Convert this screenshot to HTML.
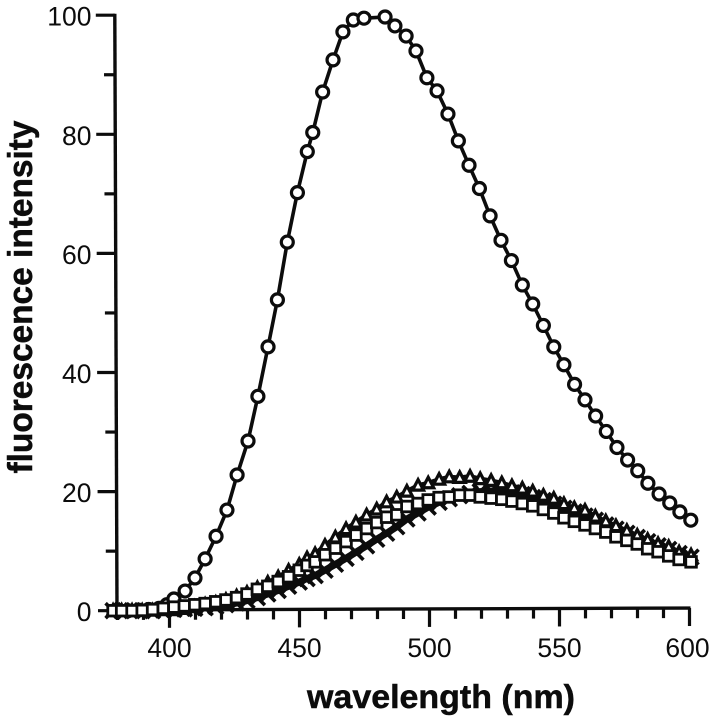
<!DOCTYPE html>
<html>
<head>
<meta charset="utf-8">
<title>Fluorescence spectra</title>
<style>
html,body{margin:0;padding:0;background:#fff;}
svg{display:block;}
text{fill:#0c0c0c;font-family:"Liberation Sans",Arial,sans-serif;}
.title{stroke:#0c0c0c;stroke-width:0.5px;}
</style>
</head>
<body>
<svg id="chart" width="716" height="719" viewBox="0 0 716 719" xmlns="http://www.w3.org/2000/svg">
  <g id="axes"></g>
  <g id="series"></g>
  <text class="title" x="441" y="708" text-anchor="middle" font-size="33" font-weight="bold" textLength="268" lengthAdjust="spacingAndGlyphs">wavelength (nm)</text>
  <text class="title" transform="translate(32,297) rotate(-90)" text-anchor="middle" font-size="34" font-weight="bold" textLength="353" lengthAdjust="spacingAndGlyphs">fluorescence intensity</text>
</svg>
<script>
const xMajorTicks = [400, 450, 500, 550, 600];
const xMinorTicks = [380, 390, 410, 420, 430, 440, 460, 470, 480, 490, 510, 520, 530, 540, 560, 570, 580, 590];
const yMajorTicks = [0, 20, 40, 60, 80, 100];
const yMinorTicks = [10, 30, 50, 70, 90];

const circleNm = [380,384,388,392,396,399,401.7,406,409.8,413.7,417.9,422.1,426,430.2,434,437.9,441.5,445.3,449.2,453,455.1,458.9,462.9,466.7,470.7,474.8,482.9,486.7,491,494.8,499,502.9,507.1,511.1,515.2,519.2,523.3,527.5,531.5,535.7,539.7,543.8,547.8,551.7,555.8,559.8,563.9,568,572.1,576.2,580.1,584,588.3,592.4,596.3,600.5];
const circleValues = [0,0,0.1,0.2,0.4,1,1.96,3.3,5.5,8.7,12.5,16.9,22.8,28.5,36,44.3,52.2,61.9,70.2,77.1,80.3,87.1,92.5,97.2,99.2,99.5,99.7,98.2,96.5,94,89.5,87.3,83.4,78.9,74.8,70.9,66.3,62.2,58.8,54.7,51.5,47.9,44.3,41.3,38,35.4,32.7,30.1,27.4,25.3,23.5,21.4,19.6,18.1,16.6,15.2];

const gridNm = [378.3,381.6,385.6,389.5,393.5,397.6,401.7,405.7,409.7,413.7,417.8,421.7,425.8,429.8,433.8,437.8,441.8,445.8,449.9,452.9,456,459.8,463.8,467.9,471.7,475.8,479.7,483.5,487.4,491.3,495.6,499.5,503.7,507.6,511.6,515.6,519.5,523.7,527.8,531.7,535.7,539.7,543.8,547.8,551.7,555.7,559.8,563.8,567.8,571.7,575.9,579.9,583.9,587.9,592,596,600.6];
const crossValues = [0,0,0,0,0,0.1,0.2,0.3,0.4,0.5,0.7,1,1.3,1.7,2.2,2.8,3.4,4.1,4.8,5.4,5.9,6.8,7.8,8.8,9.8,10.9,12,13,14.1,15.4,16.4,17.4,18.2,18.8,19.3,19.7,20,20.1,20,19.8,19.5,19,18.5,17.9,17.2,16.6,15.9,15.2,14.4,13.7,13,12.3,11.6,10.9,10.3,9.6,9];
const triangleValues = [0,0,0,0,0,0.1,0.1,0.3,0.6,1,1.3,1.8,2.4,3,3.8,4.7,5.6,6.7,7.7,8.8,9.5,10.9,12.3,13.7,14.8,16,17,18.2,19,20,21,21.4,22,22.4,22.3,22.5,22.1,21.8,21.4,20.9,20.5,20,19.3,18.8,17.9,17.2,16.8,15.8,15,14.2,13.4,12.6,11.9,11.2,10.7,9.8,9.3];
const squareValues = [0,0,0,0.05,0.2,0.4,0.6,0.8,1,1.2,1.5,1.8,2.2,2.8,3.6,4.1,4.9,5.7,6.8,7.6,8.2,9.4,10.5,11.6,12.7,13.8,14.8,15.7,16.1,17.5,18,18.6,19,19.1,19.4,19.4,19.1,18.9,18.7,18.4,18,17.6,17,16.4,15.6,15,14.4,13.8,13.2,12.4,11.8,11.2,10.4,9.9,9.2,8.6,8.2];

const NS = 'http://www.w3.org/2000/svg';
const INK = '#0c0c0c';
const axesG = document.getElementById('axes');
const seriesG = document.getElementById('series');

function xScale(nm) { return 169.5 + (nm - 400) * 2.6; }
function yScale(v) { return 610.7 - v * 5.955; }
function yAxisX(v) { return 117 - v * 0.022; }
function xAxisY(nm) { return 610 - (nm - 380) * 0.009; }

function make(tag, attrs, parent) {
  const el = document.createElementNS(NS, tag);
  for (const k in attrs) el.setAttribute(k, attrs[k]);
  parent.appendChild(el);
  return el;
}

const yAxisLine = make('line', {x1: yAxisX(100), y1: yScale(100) - 1.5, x2: yAxisX(0), y2: yScale(0), stroke: INK, 'stroke-width': 3.4}, axesG);



const xAxisLine = make('line', {x1: xScale(380), y1: xAxisY(380), x2: xScale(600) + 1, y2: xAxisY(600), stroke: INK, 'stroke-width': 3.4}, axesG);



yMajorTicks.forEach(function (v) {
  const t = make('line', {x1: yAxisX(v) - 19, y1: yScale(v), x2: yAxisX(v), y2: yScale(v), stroke: INK, 'stroke-width': 3.2}, axesG);
  
  
  const l = make('text', {x: 91.5, y: yScale(v) + 10.5, 'text-anchor': 'end', 'font-size': 26.5}, axesG);
  l.textContent = String(v);
  
  
});

yMinorTicks.forEach(function (v) {
  const t = make('line', {x1: yAxisX(v) - 11, y1: yScale(v), x2: yAxisX(v), y2: yScale(v), stroke: INK, 'stroke-width': 3.2}, axesG);
  
  
});

xMajorTicks.forEach(function (nm) {
  const t = make('line', {x1: xScale(nm), y1: xAxisY(nm), x2: xScale(nm), y2: xAxisY(nm) + 18, stroke: INK, 'stroke-width': 3.2}, axesG);
  
  
  const l = make('text', {x: xScale(nm) - (nm === 600 ? 2 : 0), y: 657, 'text-anchor': 'middle', 'font-size': 26.5}, axesG);
  l.textContent = String(nm);
  
  
});

xMinorTicks.forEach(function (nm) {
  const t = make('line', {x1: xScale(nm), y1: xAxisY(nm), x2: xScale(nm), y2: xAxisY(nm) + 10, stroke: INK, 'stroke-width': 3.2}, axesG);
  
  
});

function linePath(nms, vals) {
  return nms.map(function (nm, i) {
    return (i ? 'L' : 'M') + xScale(nm).toFixed(1) + ' ' + yScale(vals[i]).toFixed(1);
  }).join(' ');
}

// circle series
const circleGroup = make('g', {}, seriesG);


const circleLine = make('path', {d: linePath(circleNm, circleValues), fill: 'none', stroke: INK, 'stroke-width': 3.6}, circleGroup);


circleNm.forEach(function (nm, i) {
  const m = make('circle', {cx: xScale(nm), cy: yScale(circleValues[i]), r: 6, fill: '#fff', stroke: INK, 'stroke-width': 3.2}, circleGroup);
  
  
});

// cross series
const crossGroup = make('g', {}, seriesG);


const crossLine = make('path', {d: linePath(gridNm, crossValues), fill: 'none', stroke: INK, 'stroke-width': 7}, crossGroup);


gridNm.forEach(function (nm, i) {
  const cx = xScale(nm), cy = yScale(crossValues[i]), a = 7.5;
  const m = make('path', {d: 'M' + (cx - a) + ' ' + (cy - a) + ' L' + (cx + a) + ' ' + (cy + a) + ' M' + (cx - a) + ' ' + (cy + a) + ' L' + (cx + a) + ' ' + (cy - a), fill: 'none', stroke: INK, 'stroke-width': 3.6}, crossGroup);
  
  
});

// triangle series
const triangleGroup = make('g', {}, seriesG);


const triangleLine = make('path', {d: linePath(gridNm, triangleValues), fill: 'none', stroke: INK, 'stroke-width': 5}, triangleGroup);


gridNm.forEach(function (nm, i) {
  const cx = xScale(nm), cy = yScale(triangleValues[i]);
  const m = make('path', {d: 'M' + cx + ' ' + (cy - 6) + ' L' + (cx + 5.5) + ' ' + (cy + 4.5) + ' L' + (cx - 5.5) + ' ' + (cy + 4.5) + ' Z', fill: '#fff', stroke: INK, 'stroke-width': 3.2, 'stroke-linejoin': 'miter'}, triangleGroup);
  
  
});

// square series
const squareGroup = make('g', {}, seriesG);


const squareLine = make('path', {d: linePath(gridNm, squareValues), fill: 'none', stroke: INK, 'stroke-width': 3.5}, squareGroup);


gridNm.forEach(function (nm, i) {
  const cx = xScale(nm), cy = yScale(squareValues[i]), s = 10.6;
  const m = make('rect', {x: cx - s / 2, y: cy - s / 2, width: s, height: s, fill: '#fff', stroke: INK, 'stroke-width': 2.8}, squareGroup);
  
  
});
</script>
</body>
</html>
